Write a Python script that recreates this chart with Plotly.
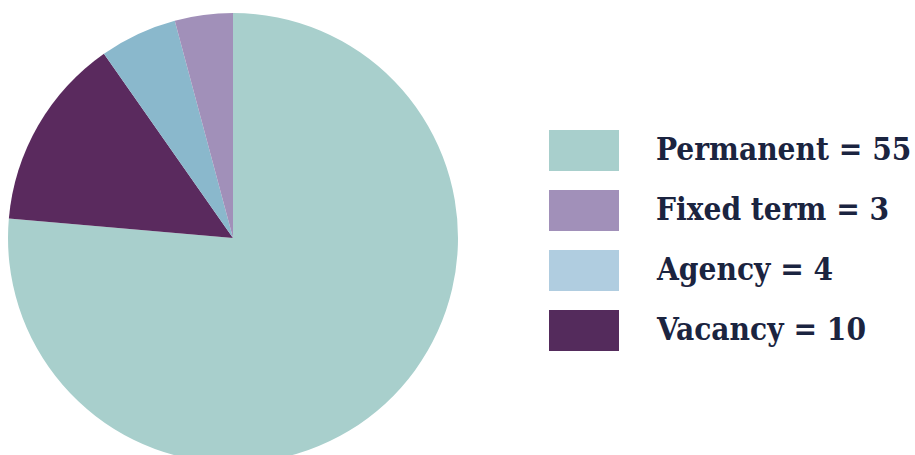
import plotly.graph_objects as go

# Staffing breakdown
labels = ["Permanent", "Vacancy", "Agency", "Fixed term"]
values = [55, 10, 4, 3]
slice_colors = ["#a8cfcc", "#5a2a5e", "#8ab8cc", "#a190b9"]

legend_labels = ["Permanent", "Fixed term", "Agency", "Vacancy"]
legend_colors = ["#a8cfcc", "#a190b9", "#b0cde0", "#542b5c"]

W, H = 915, 463
value_of = dict(zip(labels, values))

fig = go.Figure(
    go.Pie(
        labels=labels,
        values=values,
        marker=dict(colors=slice_colors, line=dict(width=0)),
        sort=False,
        direction="clockwise",
        rotation=0,
        textinfo="none",
        hoverinfo="label+value",
        showlegend=False,
        domain=dict(x=[0, 466 / W], y=[0, 1 - 13 / H]),
    )
)

# Legend drawn as swatches with labels
shapes, annotations = [], []
for i, (name, col) in enumerate(zip(legend_labels, legend_colors)):
    top = 130 + 60 * i
    shapes.append(dict(
        type="rect", xref="paper", yref="paper",
        x0=549 / W, x1=619 / W,
        y0=1 - (top + 41) / H, y1=1 - top / H,
        fillcolor=col, line=dict(width=0),
    ))
    annotations.append(dict(
        xref="paper", yref="paper",
        x=654 / W, y=1 - (top + 19) / H,
        xanchor="left", yanchor="middle",
        text=f"<b>{name} = {value_of[name]}</b>",
        showarrow=False,
        font=dict(family="DejaVu Serif Condensed, DejaVu Serif", size=31.3, color="#1b2440"),
    ))

fig.update_layout(
    width=W, height=H,
    margin=dict(l=0, r=0, t=0, b=0),
    paper_bgcolor="white",
    plot_bgcolor="white",
    shapes=shapes,
    annotations=annotations,
)

fig.write_html(
    "out.html",
    config={"displayModeBar": False},
    post_script="document.body.style.margin='0';document.body.style.overflow='hidden';document.documentElement.style.overflow='hidden';",
)
